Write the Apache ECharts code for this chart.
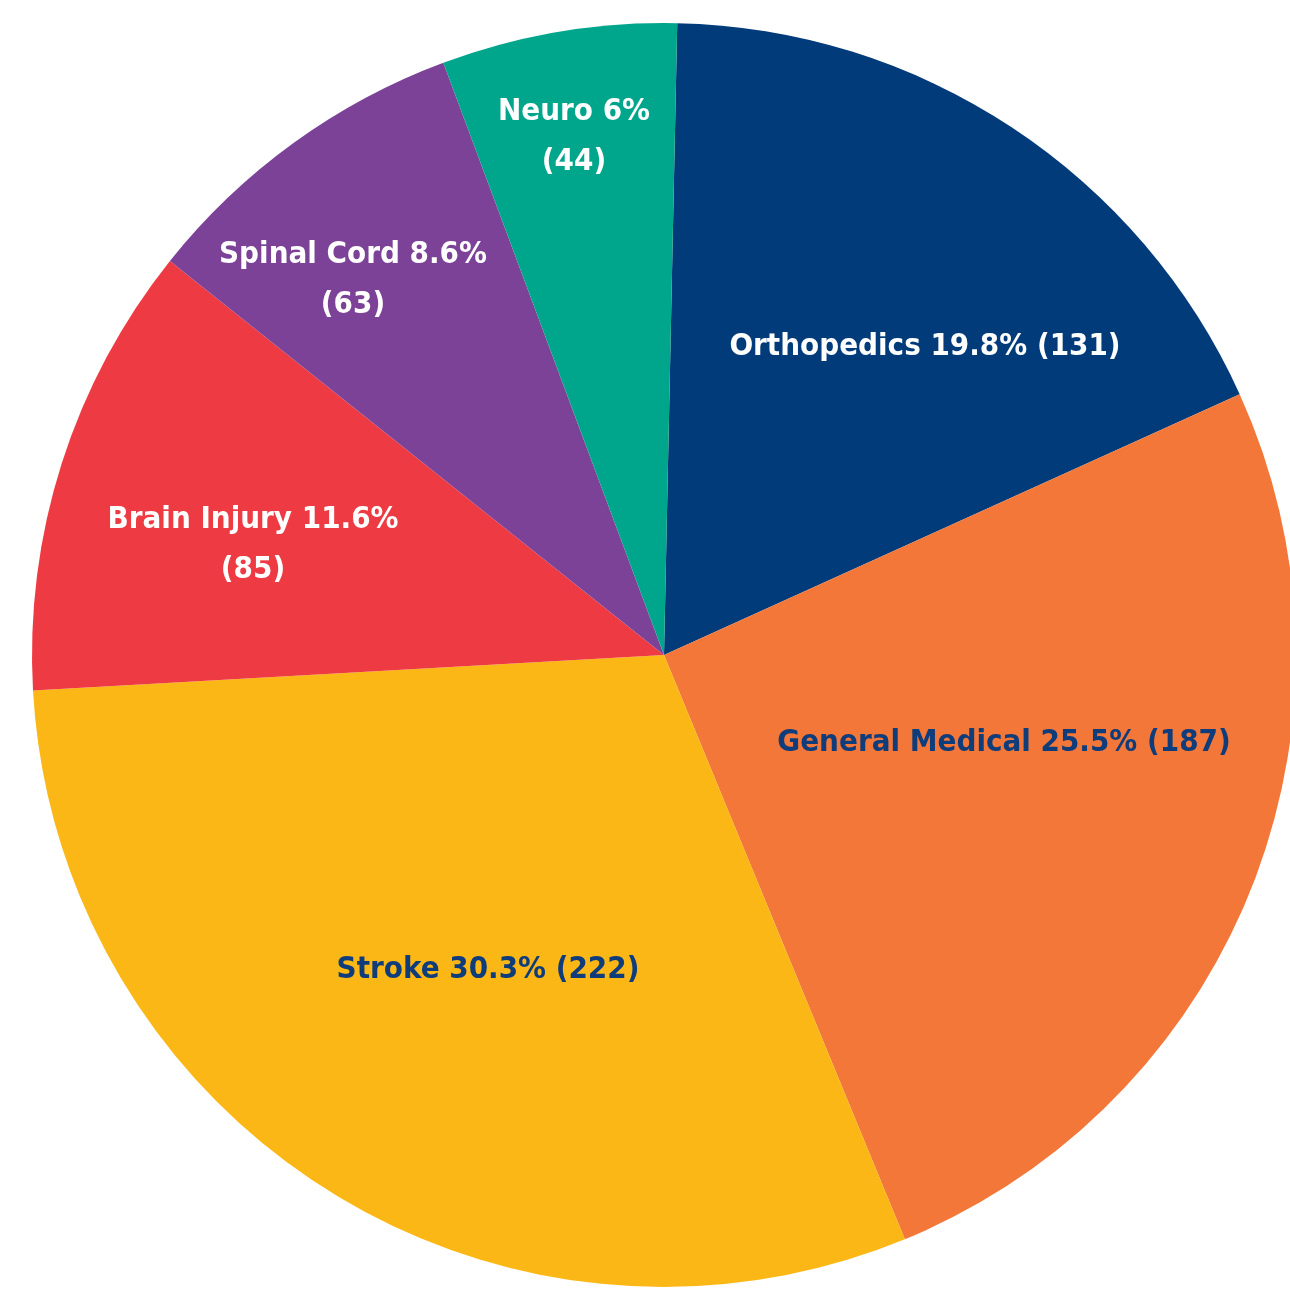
<!DOCTYPE html>
<html>
<head>
<meta charset="utf-8">
<script src="https://cdn.jsdelivr.net/npm/echarts@6/dist/echarts.min.js"></script>
<style>
  body { margin: 0; background: #fff; }
  #chart { width: 1290px; height: 1292px; }
</style>
</head>
<body>
<div id="chart"></div>
<script>
// data
const categories = ['Orthopedics', 'General Medical', 'Stroke', 'Brain Injury', 'Spinal Cord', 'Neuro']
const counts = [131, 187, 222, 85, 63, 44]
const pctText = ['19.8%', '25.5%', '30.3%', '11.6%', '8.6%', '6%']

// styling
const colors = ['#023B7A', '#F37738', '#FBB716', '#EE3B43', '#7B4297', '#00A68C']
const textColors = ['#fff', '#0F3C7B', '#0F3C7B', '#fff', '#fff', '#fff']
const twoLine = [false, false, false, true, true, true]
const cx = 664, cy = 655
// label shift from pie centre
const labelShift = [[261, -308], [340, 88], [-176, 315], [-411, -110], [-311, -375], [-90, -518]]

const chart = echarts.init(document.getElementById('chart'))
const option = {
  animation: false,
  series: [
    {
      type: 'pie',
      center: [cx, cy],
      radius: [0, 632],
      startAngle: 88.8,
      clockwise: true,
      avoidLabelOverlap: false,
      silent: true,
      itemStyle: { borderWidth: 0 },
      labelLine: { show: false },
      label: {
        show: true,
        position: 'inside',
        fontFamily: '"Liberation Sans Narrow", "DejaVu Sans Condensed", sans-serif',
        fontWeight: 'bold',
        fontSize: 31,
        lineHeight: 50,
        align: 'center',
        formatter: p => {
          const i = p.dataIndex
          return p.name + ' ' + pctText[i] + (twoLine[i] ? '\n' : ' ') + '(' + p.value + ')'
        }
      },
      labelLayout: p => {
        const s = labelShift[p.dataIndex]
        return { x: cx + s[0], y: cy + s[1], align: 'center', verticalAlign: 'middle' }
      },
      data: categories.map((c, i) => ({
        name: c,
        value: counts[i],
        itemStyle: { color: colors[i] },
        label: { color: textColors[i] }
      }))
    }
  ]
}
chart.setOption(option)
</script>
</body>
</html>
